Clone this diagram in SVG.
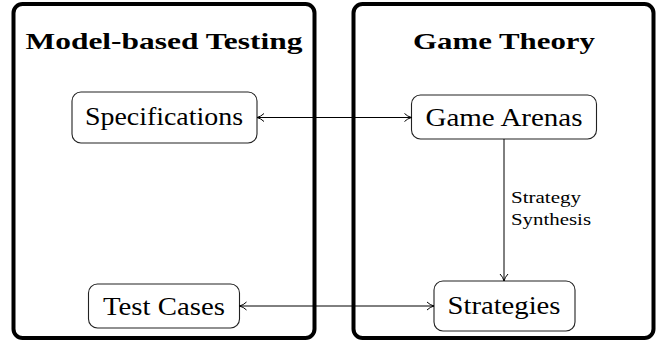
<svg xmlns="http://www.w3.org/2000/svg" width="658" height="342" viewBox="0 0 658 342">
<defs>
<style>
.frame{fill:none;stroke:#000;stroke-width:4}
.node{fill:#fff;stroke:#222;stroke-width:1.1}
.title{font-family:"Liberation Serif","DejaVu Serif",serif;font-weight:bold;font-size:23px;fill:#000;text-anchor:middle}
.lbl{font-family:"Liberation Serif","DejaVu Serif",serif;font-size:25px;fill:#000;text-anchor:middle}
.small{font-family:"Liberation Serif","DejaVu Serif",serif;font-size:16px;fill:#000}
.edge{fill:none;stroke:#000;stroke-width:1}
</style>
<marker id="arr" viewBox="0 0 10 10" refX="9" refY="5" markerWidth="10" markerHeight="10" markerUnits="userSpaceOnUse" orient="auto-start-reverse">
<path d="M2,1 Q5,4 9,5 Q5,6 2,9" fill="none" stroke="#000" stroke-width="1"/>
</marker>
</defs>
<g id="mbt">
<rect class="frame" x="13.5" y="4" width="301" height="334" rx="9"/>
<text class="title" x="164" y="49" textLength="277" lengthAdjust="spacingAndGlyphs">Model-based Testing</text>
</g>
<g id="gt">
<rect class="frame" x="353.5" y="4" width="300" height="334" rx="9"/>
<text class="title" x="504" y="49" textLength="182" lengthAdjust="spacingAndGlyphs">Game Theory</text>
</g>
<g id="specifications">
<rect class="node" x="72" y="92" width="185" height="51" rx="9"/>
<text class="lbl" x="164" y="125" textLength="158" lengthAdjust="spacingAndGlyphs">Specifications</text>
</g>
<g id="test-cases">
<rect class="node" x="88.5" y="284" width="151" height="44" rx="9"/>
<text class="lbl" x="164" y="315" textLength="122" lengthAdjust="spacingAndGlyphs">Test Cases</text>
</g>
<g id="game-arenas">
<rect class="node" x="411.5" y="95" width="185" height="44" rx="9"/>
<text class="lbl" x="504" y="125.5" textLength="157" lengthAdjust="spacingAndGlyphs">Game Arenas</text>
</g>
<g id="strategies">
<rect class="node" x="434" y="281" width="141" height="50" rx="9"/>
<text class="lbl" x="504" y="314" textLength="113" lengthAdjust="spacingAndGlyphs">Strategies</text>
</g>
<g id="connectors">
<line class="edge" x1="257" y1="117.5" x2="411.5" y2="117.5" marker-start="url(#arr)" marker-end="url(#arr)"/>
<line class="edge" x1="239.5" y1="306" x2="434" y2="306" marker-start="url(#arr)" marker-end="url(#arr)"/>
<line class="edge" x1="504" y1="139" x2="504" y2="281" marker-end="url(#arr)"/>
<text class="small" x="511" y="203" textLength="70" lengthAdjust="spacingAndGlyphs">Strategy</text>
<text class="small" x="511" y="225" textLength="80" lengthAdjust="spacingAndGlyphs">Synthesis</text>
</g>
</svg>
